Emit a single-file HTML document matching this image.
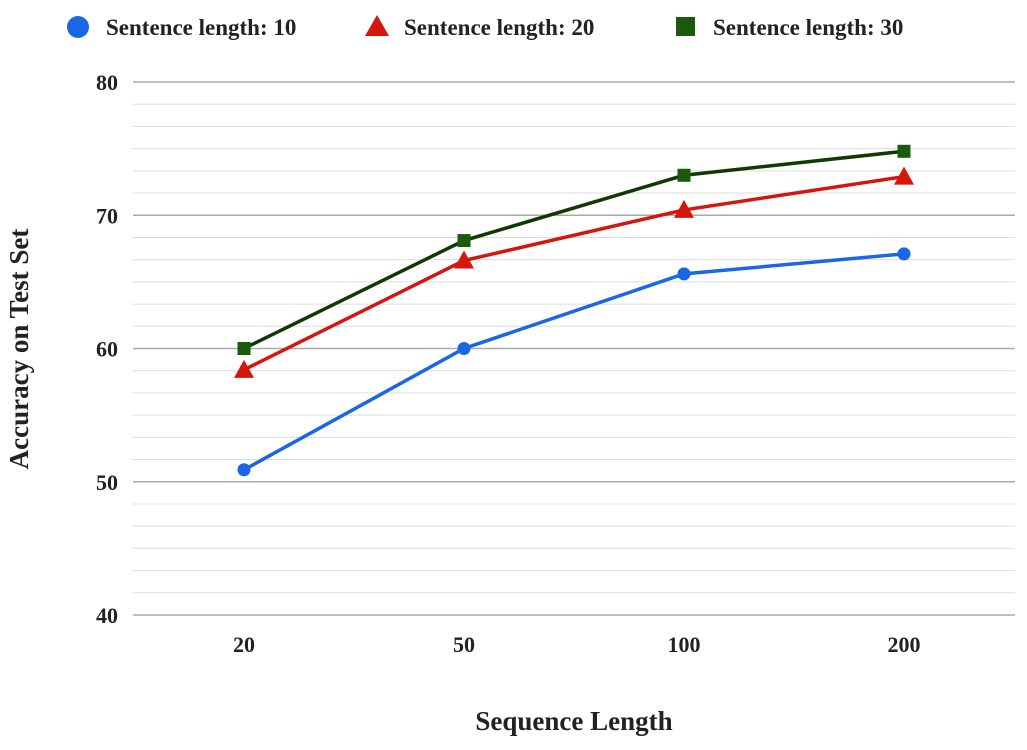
<!DOCTYPE html>
<html><head><meta charset="utf-8"><style>
body{margin:0;background:#fff;}
svg text{font-family:"Liberation Serif",serif;font-weight:bold;fill:#222;}
</style></head><body>
<svg id="chart" width="1027" height="745" xmlns="http://www.w3.org/2000/svg">
<g id="grid"></g>
<g id="yticks"></g>
<g id="xticks"></g>
<g id="series"></g>
<text x="574" y="730" text-anchor="middle" font-size="27">Sequence Length</text>
<text transform="translate(28,349) rotate(-90)" text-anchor="middle" font-size="27">Accuracy  on Test Set</text>
<g>
<g><circle cx="78" cy="27" r="11" fill="#1a66e8"/><text x="106" y="35" font-size="23">Sentence length: 10</text></g>
<g><polygon points="377,15 389,36 365,36" fill="#d4170c"/><text x="404" y="35" font-size="23">Sentence length:  20</text></g>
<g><rect x="676" y="17" width="19" height="19" fill="#1a5a0c"/><text x="713" y="35" font-size="23">Sentence length:  30</text></g>
</g>
</svg>
<script>
const categories=["20","50","100","200"];
const s10=[50.9,60.0,65.6,67.1];
const s20=[58.4,66.6,70.4,72.9];
const s30=[60.0,68.1,73.0,74.8];
const yTicks=[40,50,60,70,80];
const NS="http://www.w3.org/2000/svg";
const yMin=40,yMax=80,yTop=82,yBot=615;
function y(v){return yBot-(v-yMin)/(yMax-yMin)*(yBot-yTop);}
function x(i){return 244+i*220;}
function mk(t,a,p){const e=document.createElementNS(NS,t);for(const k in a)e.setAttribute(k,a[k]);p.appendChild(e);return e;}
const grid=document.getElementById('grid');
for(let k=0;k<=24;k++){
 const v=yMin+k*10/6;
 const major=(k%6===0);
 const l=mk('line',{x1:133,x2:1015,y1:y(v),y2:y(v),stroke:major?'#aaa':'#ddd','stroke-width':major?1.5:1},grid);
 
 
}
const yt=document.getElementById('yticks');
yTicks.forEach(v=>{const t=mk('text',{x:118,y:y(v)+8,'text-anchor':'end','font-size':22},yt);t.textContent=v;
 
 });
const xt=document.getElementById('xticks');
categories.forEach((c,i)=>{const t=mk('text',{x:x(i),y:652,'text-anchor':'middle','font-size':22},xt);t.textContent=c;
 
 });
const sg=document.getElementById('series');
function draw(vals,color,lineColor,shape,name){
 const g=mk('g',{},sg);
 
 
 const pl=mk('polyline',{points:vals.map((v,i)=>x(i)+','+y(v)).join(' '),fill:'none',stroke:lineColor,'stroke-width':3.5},g);
 
 
 vals.forEach((v,i)=>{let m;const cx=x(i),cy=y(v);
  if(shape==='c')m=mk('circle',{cx:cx,cy:cy,r:6.5,fill:color},g);
  else if(shape==='t')m=mk('polygon',{points:`${cx},${cy-10} ${cx+10},${cy+8} ${cx-10},${cy+8}`,fill:color},g);
  else m=mk('rect',{x:cx-6.5,y:cy-6.5,width:13,height:13,fill:color},g);
  
  });
}
draw(s10,'#1a66e8','#1a66e8','c','series-length-10');
draw(s20,'#d4170c','#d4170c','t','series-length-20');
draw(s30,'#1a5a0c','#0f3a05','s','series-length-30');
</script>
</body></html>
